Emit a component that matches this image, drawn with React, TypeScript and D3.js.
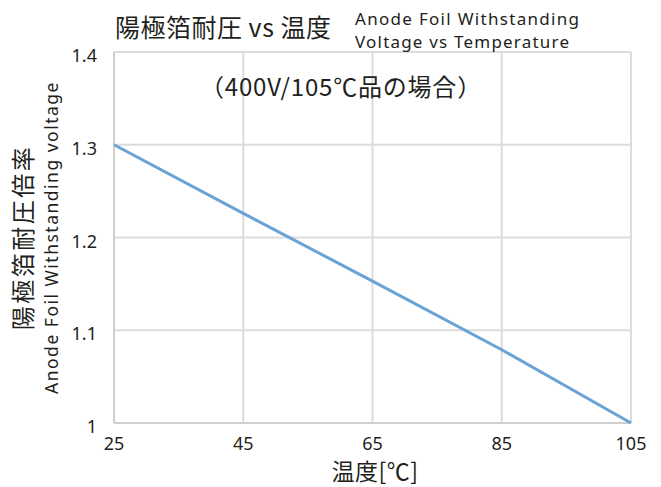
import React from 'react';
import * as d3 from 'd3';

const temps = [25, 45, 65, 85, 105];
const ratio = [1.3, 1.226, 1.153, 1.079, 1.0];
const xTicks = [25, 45, 65, 85, 105];
const yTicks = [1, 1.1, 1.2, 1.3, 1.4];

const W = 661;
const H = 487;
const margin = { top: 52, right: 30, bottom: 64, left: 114 };
const font = '"Noto Sans CJK JP", "Noto Sans", sans-serif';
const latin = '"Noto Sans", sans-serif';
const ink = '#231f20';

const App: React.FC = () => {
  const x = d3.scaleLinear().domain([25, 105]).range([margin.left, W - margin.right]);
  const y = d3.scaleLinear().domain([1, 1.4]).range([H - margin.bottom, margin.top]);

  const line = d3.line<number>()
    .x((_, i) => x(temps[i]))
    .y(d => y(d));

  const fmt = (v: number) => (v === 1 ? '1' : d3.format('.1f')(v));
  const midY = (y(1) + y(1.4)) / 2;

  return (
    <svg width={W} height={H} style={{ position: 'absolute', left: 0, top: 0 }} fontFamily={font}>
      <rect width={W} height={H} fill="#fff" />
      {/* grid */}
      {yTicks.map(t => (
        <line key={'h' + t} x1={x(25)} x2={x(105)} y1={y(t)} y2={y(t)} stroke="#dcdcdc" strokeWidth={2} />
      ))}
      {xTicks.map(t => (
        <line key={'v' + t} x1={x(t)} x2={x(t)} y1={y(1.4)} y2={y(1)} stroke="#dcdcdc" strokeWidth={2} />
      ))}
      <line x1={x(25)} x2={x(25)} y1={y(1.4)} y2={y(1)} stroke="#cfcfcf" strokeWidth={2} />
      <line x1={x(25)} x2={x(105)} y1={y(1)} y2={y(1)} stroke="#cfcfcf" strokeWidth={2} />

      {/* data */}
      <path d={line(ratio) ?? ''} fill="none" stroke="#6aa3d4" strokeWidth={3} />

      {/* tick labels */}
      {yTicks.map(t => (
        <text key={'yl' + t} x={97} y={y(t) + 10} textAnchor="end" fontSize={18} fontFamily={latin} fill={ink}>
          {fmt(t)}
        </text>
      ))}
      {xTicks.map(t => (
        <text key={'xl' + t} x={x(t)} y={450} textAnchor="middle" fontSize={18} fontFamily={latin} fill={ink}>
          {t}
        </text>
      ))}

      {/* titles */}
      <text x={115} y={37} fontSize={25} letterSpacing={0.5} fill={ink}>陽極箔耐圧 vs 温度</text>
      <text x={355} y={25} fontSize={17} letterSpacing={1.3} fontFamily={latin} fill={ink}>Anode Foil Withstanding</text>
      <text x={355} y={48} fontSize={17} letterSpacing={1.2} fontFamily={latin} fill={ink}>Voltage vs Temperature</text>

      <text x={341} y={96} textAnchor="middle" fontSize={24} letterSpacing={0.8} fill={ink}>（400V/105℃品の場合）</text>

      <text x={375} y={480} textAnchor="middle" fontSize={23} letterSpacing={0.5} fill={ink}>温度[℃]</text>

      <g transform={`translate(32, ${midY}) rotate(-90)`}>
        <text x={0} y={0} textAnchor="middle" fontSize={24} letterSpacing={2.5} fill={ink}>陽極箔耐圧倍率</text>
      </g>
      <g transform={`translate(58, ${midY}) rotate(-90)`}>
        <text x={0} y={0} textAnchor="middle" fontSize={17.5} letterSpacing={1.5} fontFamily={latin} fill={ink}>Anode Foil Withstanding voltage</text>
      </g>
    </svg>
  );
};

export default App;
